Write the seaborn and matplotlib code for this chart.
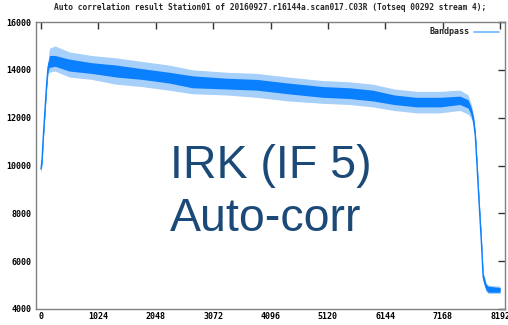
import numpy as np
import matplotlib
matplotlib.use("Agg")
import matplotlib.pyplot as plt
import seaborn as sns
from matplotlib.lines import Line2D

# Bandpass envelope per channel: spike extent (outer) and dense core (inner)
channel = [0, 20, 40, 70, 100, 125, 150, 250, 500, 900, 1340, 1800, 2280, 2700,
           3300, 3850, 4400, 5030, 5500, 5920, 6300, 6700, 7120, 7475, 7620,
           7680, 7720, 7750, 7780, 7815, 7860, 7890, 7940, 7980, 8192]
core_lo = [9750, 10150, 11050, 12150, 13250, 13950, 14100, 14150, 13950, 13850,
           13700, 13600, 13450, 13250, 13200, 13150, 13000, 12850, 12800, 12700,
           12550, 12450, 12450, 12550, 12400, 12100, 11700, 11100, 9900, 8400,
           6600, 5200, 4800, 4700, 4700]
core_hi = [9950, 10450, 11350, 12450, 13550, 14250, 14600, 14600, 14450, 14300,
           14200, 14050, 13900, 13750, 13650, 13600, 13450, 13300, 13250, 13150,
           12950, 12850, 12850, 12900, 12750, 12400, 12000, 11400, 10200, 8700,
           6900, 5500, 5050, 4950, 4900]
spike_lo = [9700, 10100, 11000, 12100, 13200, 13850, 13900, 13950, 13700, 13600,
            13400, 13300, 13150, 13000, 12950, 12850, 12700, 12600, 12550, 12450,
            12300, 12200, 12200, 12300, 12150, 11950, 11600, 11050, 9850, 8350,
            6550, 5150, 4750, 4650, 4650]
spike_hi = [10050, 10550, 11450, 12550, 13650, 14400, 14900, 15000, 14750, 14600,
            14500, 14350, 14200, 14000, 13900, 13850, 13700, 13550, 13500, 13400,
            13200, 13100, 13100, 13150, 12950, 12550, 12100, 11450, 10250, 8750,
            6950, 5550, 5100, 5000, 4950]

x_ticks = [0, 1024, 2048, 3072, 4096, 5120, 6144, 7168, 8192]
y_ticks = [4000, 6000, 8000, 10000, 12000, 14000, 16000]
title = ("Auto correlation result Station01 of 20160927.r16144a.scan017.C03R "
         "(Totseq 00292 stream 4);")
series_name = "Bandpass"
overlay_lines = ["IRK (IF 5)", "Auto-corr"]

sns.set_theme(style="white")
plt.rcParams["font.family"] = ["DejaVu Sans Mono", "DejaVu Sans"]

W, H = 508, 325
fig = plt.figure(figsize=(W / 100, H / 100), dpi=100)
ax = fig.add_axes([36 / W, 1 - 309 / H, (505 - 36) / W, (309 - 22) / H])

line_col = "#0a80ff"
ax.fill_between(channel, spike_lo, spike_hi, color="#a6cff9", lw=0, zorder=2)
ax.fill_between(channel, core_lo, core_hi, color=line_col, lw=0, zorder=3)
center = [(a + b) / 2 for a, b in zip(core_lo, core_hi)]
sns.lineplot(x=channel, y=center, ax=ax, color=line_col, lw=1.0, zorder=4)

ax.set_xlim(-90, 8280)
ax.set_ylim(4000, 16000)
ax.set_xticks(x_ticks)
ax.set_yticks(y_ticks)
ax.set_xticklabels([str(t) for t in x_ticks])
ax.set_yticklabels([str(t) for t in y_ticks])
ax.tick_params(axis="both", direction="in", length=5, width=1, color="#333333",
               labelsize=6, labelcolor="black", top=True, right=True)
ax.tick_params(axis="y", pad=3.5)
ax.tick_params(axis="x", pad=2.5)
for lab in ax.get_xticklabels() + ax.get_yticklabels():
    lab.set_fontweight("bold")
for sp in ax.spines.values():
    sp.set_color("#808080")
    sp.set_linewidth(1)
    sp.set_visible(True)
ax.grid(False)
ax.set_xlabel("")
ax.set_ylabel("")

fig.text(270.5 / W, 1 - 8 / H, title, ha="center", va="center",
         fontsize=5.7, fontweight="bold")

handle = Line2D([0], [0], color="#6cb4ff", lw=1.2)
ax.legend([handle], [series_name], loc="center right",
          bbox_to_anchor=(499 / W, 1 - 32 / H), bbox_transform=fig.transFigure,
          frameon=False, markerfirst=False, handlelength=3.0,
          handletextpad=0.5, borderpad=0, borderaxespad=0,
          prop={"size": 6, "weight": "bold"})

fig.text(170 / W, 1 - 178 / H, overlay_lines[0], ha="left", va="baseline",
         fontsize=33.5, color="#1c4a78", family="Liberation Sans")
fig.text(170 / W, 1 - 231 / H, overlay_lines[1], ha="left", va="baseline",
         fontsize=33.5, color="#1c4a78", family="Liberation Sans")

fig.savefig("out.png", dpi=100)
